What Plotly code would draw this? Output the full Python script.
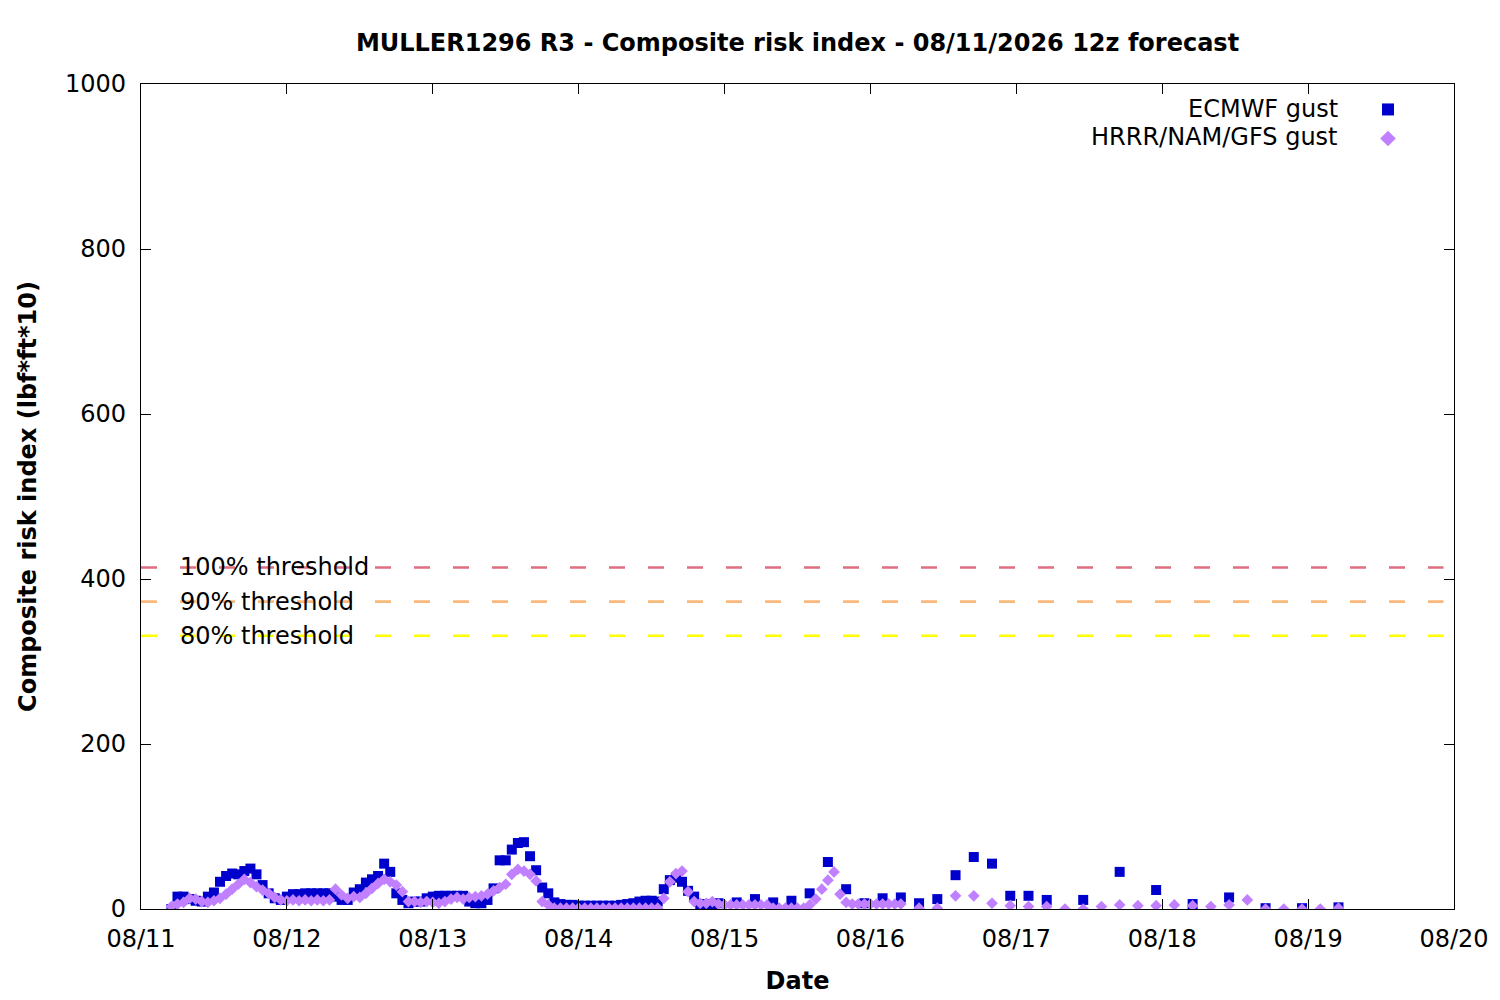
import plotly.graph_objects as go
import pandas as pd

# ECMWF gust: hourly to +90h, 3-hourly to +144h, 6-hourly after
ecmwf_hourly = [0, 15, 15, 12, 10, 9, 15, 20, 33, 40,
                43, 42, 46, 49, 42, 29, 19, 13, 11, 15,
                18, 18, 19, 19, 19, 19, 19, 15, 11, 11,
                20, 24, 32, 36, 40, 55, 45, 19, 11, 7,
                9, 9, 13, 15, 16, 16, 16, 16, 16, 9,
                7, 7, 11, 25, 59, 59, 72, 80, 81, 64,
                47, 26, 19, 8, 6, 5, 5, 4, 4, 4,
                4, 4, 4, 4, 5, 6, 7, 9, 10, 10,
                9, 24, 35, 38, 33, 22, 15, 6, 4, 6,
                7]
ecmwf_3h = [8, 12, 8, 10, 19, 57, 24, 7, 13, 14, 7, 12, 41, 63, 55, 16, 16, 11]
ecmwf_6h = [11, 45, 23, 6, 14, 1, 1, 2]

# HRRR/NAM/GFS gust: hourly to +120h, 3-hourly after
hrrr_hourly = [3, 6, 8, 13, 12, 9, 8, 10, 13, 18,
               24, 30, 36, 32, 27, 23, 19, 14, 11, 10,
               11, 10, 11, 10, 11, 10, 11, 24, 17, 13,
               15, 14, 19, 25, 31, 36, 33, 29, 21, 9,
               9, 8, 9, 8, 7, 9, 12, 14, 12, 14,
               15, 16, 18, 22, 26, 30, 42, 48, 46, 42,
               34, 9, 5, 1, 1, 1, 1, 1, 1, 1,
               1, 1, 1, 1, 1, 1, 1, 1, 1, 1,
               1, 13, 33, 43, 46, 21, 9, 7, 7, 9,
               6, 5, 5, 5, 5, 5, 5, 5, 5, 1,
               1, 1, 1, 1, 1, 5, 12, 24, 35, 45,
               18, 8, 6, 6, 6, 6, 6, 6, 6, 6,
               6]
hrrr_3h = [1, 1, 16, 16, 7, 4, 3, 3, 0, 0, 3, 5, 4, 4, 5, 4, 3, 5, 11, 0, 0, 0, 0, 1]

series_names = ['ECMWF gust', 'HRRR/NAM/GFS gust']

thresholds = [414, 372.6, 331.2]
threshold_labels = ['100% threshold', '90% threshold', '80% threshold']
threshold_colors = ['#de6e80', '#f9b87c', '#ffff00']

day_ticks = pd.date_range('2026-08-11', '2026-08-20', freq='D')

ecmwf_x = (list(pd.date_range('2026-08-11 05:00', '2026-08-14 23:00', freq='h'))
           + list(pd.date_range('2026-08-15 02:00', '2026-08-17 05:00', freq='3h'))
           + list(pd.date_range('2026-08-17 11:00', '2026-08-19 05:00', freq='6h')))
ecmwf_y = ecmwf_hourly + ecmwf_3h + ecmwf_6h
hrrr_x = (list(pd.date_range('2026-08-11 05:00', '2026-08-16 05:00', freq='h'))
          + list(pd.date_range('2026-08-16 08:00', '2026-08-19 05:00', freq='3h')))
hrrr_y = hrrr_hourly + hrrr_3h

FONT = 'DejaVu Sans'
FS = 24

fig = go.Figure()
# legend entries carry no text: names are drawn to the left of the symbols (gnuplot key style)
fig.add_trace(go.Scatter(x=ecmwf_x, y=ecmwf_y, mode='markers', name='',
                         hovertemplate=series_names[0] + ': %{y}<extra></extra>',
                         marker=dict(symbol='square', size=10, color='#0000cc')))
fig.add_trace(go.Scatter(x=hrrr_x, y=hrrr_y, mode='markers', name='',
                         hovertemplate=series_names[1] + ': %{y}<extra></extra>',
                         marker=dict(symbol='diamond', size=9, color='#c080ff')))

for val, lab, col in zip(thresholds, threshold_labels, threshold_colors):
    fig.add_shape(type='line', xref='paper', x0=0, x1=0.992, yref='y', y0=val, y1=val,
                  line=dict(color=col, width=2.6, dash='16px,23px'), layer='below')
    fig.add_annotation(xref='paper', x=0.0282, yref='y', y=val, text=lab, showarrow=False,
                       xanchor='left', yanchor='middle', font=dict(size=FS, color='black'))

for i, name in enumerate(series_names):
    fig.add_annotation(xref='paper', x=0.9132, yref='paper', y=0.9697 - i * 0.0339,
                       text=name, showarrow=False, xanchor='right', yanchor='middle',
                       font=dict(size=FS, color='black'))

axis_common = dict(showline=True, linecolor='black', linewidth=1.2, mirror='ticks',
                   ticks='inside', ticklen=10, tickwidth=1.2, tickcolor='black',
                   showgrid=False, zeroline=False,
                   tickfont=dict(family=FONT, size=FS, color='black'))

fig.update_xaxes(range=['2026-08-11', '2026-08-20'], tickvals=day_ticks,
                 tickformat='%m/%d', ticklabelstandoff=8,
                 title=dict(text='<b>Date</b>', standoff=20,
                            font=dict(family=FONT, size=FS, color='black')),
                 **axis_common)
fig.update_yaxes(range=[0, 1000], tickvals=[0, 200, 400, 600, 800, 1000],
                 ticklabelstandoff=9,
                 title=dict(text='<b>Composite risk index (lbf*ft*10)</b>', standoff=21,
                            font=dict(family=FONT, size=FS, color='black')),
                 **axis_common)

fig.update_layout(
    width=1492, height=992,
    margin=dict(l=133, r=46, t=76, b=91, autoexpand=False),
    paper_bgcolor='white', plot_bgcolor='white',
    font=dict(family=FONT, size=FS, color='black'),
    title=dict(text='<b>MULLER1296 R3 - Composite risk index - 08/11/2026 12z forecast</b>',
               x=0.5, xref='paper', xanchor='center', y=0.9647, yanchor='middle',
               font=dict(family=FONT, size=FS, color='black')),
    legend=dict(x=0.9345, xanchor='left', y=0.9928, yanchor='top',
                bgcolor='rgba(0,0,0,0)', font=dict(size=20, color='black'),
                itemsizing='constant'),
    showlegend=True,
)

fig.write_html('out.html')
